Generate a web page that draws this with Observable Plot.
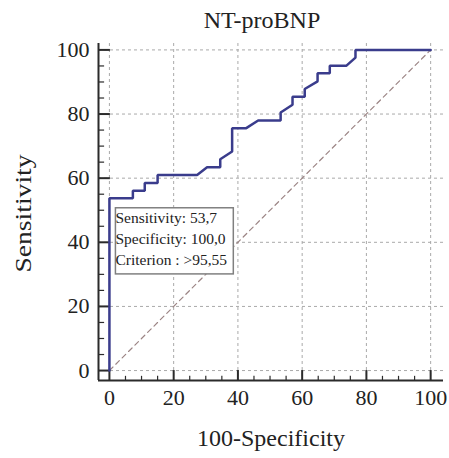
<!DOCTYPE html>
<html>
<head>
<meta charset="utf-8">
<script src="https://cdn.jsdelivr.net/npm/d3@7"></script>
<script src="https://cdn.jsdelivr.net/npm/@observablehq/plot@0.6"></script>
<style>
  html, body { margin: 0; padding: 0; background: #fff; }
</style>
</head>
<body>
<div id="chart"></div>
<script>
// ---- Data ----
const title = "NT-proBNP";
const xLabel = "100-Specificity";
const yLabel = "Sensitivity";

// ROC curve vertices (100-Specificity, Sensitivity)
const fpr  = [0, 0, 7.3, 7.3, 11.0, 11.0, 15.0, 15.0, 27.3, 30.4, 34.5, 34.5, 38.2, 38.2, 42.6, 46.3, 53.3, 53.3, 57.0, 57.0, 60.8, 60.8, 64.8, 64.8, 68.6, 68.6, 73.8, 76.6, 76.6, 100];
const sens = [0, 53.7, 53.7, 56.1, 56.1, 58.5, 58.5, 61.0, 61.0, 63.4, 63.4, 65.9, 68.3, 75.6, 75.6, 78.0, 78.0, 80.5, 82.9, 85.4, 85.4, 87.8, 90.2, 92.7, 92.7, 95.1, 95.1, 97.6, 100, 100];

// reference diagonal
const diagX = [0, 100];
const diagY = [0, 100];

const xTicks = [0, 20, 40, 60, 80, 100];
const yTicks = [0, 20, 40, 60, 80, 100];
const minorTicks = [5, 10, 15, 25, 30, 35, 45, 50, 55, 65, 70, 75, 85, 90, 95];

// optimal cut-off annotation
const cutSensitivity = 53.7;
const cutSpecificity = 100.0;
const annotLines = ["Sensitivity: 53,7", "Specificity: 100,0", "Criterion : >95,55"];

// ---- Build ----
const curve = fpr.map((x, i) => ({x, y: sens[i]}));
const diag = diagX.map((x, i) => ({x, y: diagY[i]}));

const xDom = [-3.4, 104];
const yDom = [-3.1, 102];
const axisColor = "#2b2b2b";
const gridStyle = {stroke: "#a9a9a9", strokeOpacity: 1, strokeDasharray: "3,3", strokeWidth: 1};

const plot = Plot.plot({
  width: 449,
  height: 458,
  marginLeft: 98,
  marginRight: 6,
  marginTop: 43,
  marginBottom: 78,
  x: {domain: xDom},
  y: {domain: yDom},
  style: {
    fontFamily: "'Liberation Serif', 'Times New Roman', serif",
    fontSize: "22px",
    color: "#222",
    background: "#fff",
    overflow: "visible"
  },
  marks: [
    Plot.gridX(xTicks, gridStyle),
    Plot.gridY(yTicks, gridStyle),
    Plot.line(diag, {x: "x", y: "y", stroke: "#9c8585", strokeWidth: 1.2, strokeDasharray: "5,4"}),
    Plot.axisX(xTicks, {tickSize: 0, tickPadding: 9, label: null, fontSize: 22, fill: "#222"}),
    Plot.axisY(yTicks, {tickSize: 0, tickPadding: 9, label: null, fontSize: 22, fill: "#222"}),
    // axis lines
    Plot.ruleX([xDom[0]], {y1: () => yDom[0], y2: () => yDom[1], stroke: axisColor, strokeWidth: 2}),
    Plot.ruleY([yDom[0]], {x1: () => xDom[0], x2: () => xDom[1], stroke: axisColor, strokeWidth: 2}),
    // major ticks (inward)
    Plot.ruleY(yTicks, {x1: () => xDom[0], x2: () => 0.3, stroke: axisColor, strokeWidth: 2}),
    Plot.ruleX(xTicks, {y1: () => yDom[0], y2: () => 0, stroke: axisColor, strokeWidth: 2}),
    // minor ticks
    Plot.ruleY(minorTicks, {x1: () => xDom[0], x2: () => xDom[0] + 1.9, stroke: axisColor, strokeWidth: 1.2}),
    Plot.ruleX(minorTicks, {y1: () => yDom[0], y2: () => yDom[0] + 1.3, stroke: axisColor, strokeWidth: 1.2}),
    // titles
    Plot.text([title], {frameAnchor: "top", lineAnchor: "bottom", dy: -16, dx: -9, fontSize: 24, fill: "#222"}),
    Plot.text([xLabel], {frameAnchor: "bottom", lineAnchor: "bottom", dy: 65, fontSize: 24, fill: "#222"}),
    Plot.text([yLabel], {frameAnchor: "left", rotate: -90, textAnchor: "middle", lineAnchor: "middle", dx: -75, dy: 1.5, fontSize: 23, fill: "#222"}),
    // annotation
    Plot.text([annotLines.join("\n")], {
      x: () => 100 - cutSpecificity, y: () => cutSensitivity,
      textAnchor: "start", lineAnchor: "top", lineHeight: 1.36,
      fontSize: 15.5, dx: 6, dy: 9.4, fill: "#222"
    }),
    // ROC curve
    Plot.line(curve, {x: "x", y: "y", stroke: "#3a3c8c", strokeWidth: 2.5, strokeLinejoin: "miter"})
  ]
});

document.getElementById("chart").appendChild(plot);

// stretch the vertical axis title to the reference's length
const yLab = Array.from(plot.querySelectorAll("text")).find(t => t.textContent === yLabel);
if (yLab) {
  yLab.setAttribute("textLength", 118);
  yLab.setAttribute("lengthAdjust", "spacingAndGlyphs");
}

// white box behind the annotation text
const xs = plot.scale("x"), ys = plot.scale("y");
const bx = xs.apply(100 - cutSpecificity), by = ys.apply(cutSensitivity);
const annText = Array.from(plot.querySelectorAll("text")).find(t => t.textContent.startsWith("Sensitivity:"));
if (annText) {
  const bb = annText.getBBox();
  const ctm = annText.getAttribute("transform") || "";
  const m = /translate\(([-\d.]+),\s*([-\d.]+)\)/.exec(ctm);
  const tx = m ? +m[1] : 0, ty = m ? +m[2] : 0;
  const right = tx + bb.x + bb.width + 6;
  const bottom = ty + bb.y + bb.height + 6;
  const rect = document.createElementNS("http://www.w3.org/2000/svg", "rect");
  rect.setAttribute("x", bx);
  rect.setAttribute("y", by);
  rect.setAttribute("width", right - bx);
  rect.setAttribute("height", bottom - by);
  rect.setAttribute("fill", "#fff");
  rect.setAttribute("stroke", "#808080");
  rect.setAttribute("stroke-width", 1.5);
  annText.parentNode.insertBefore(rect, annText);
}
</script>
</body>
</html>
